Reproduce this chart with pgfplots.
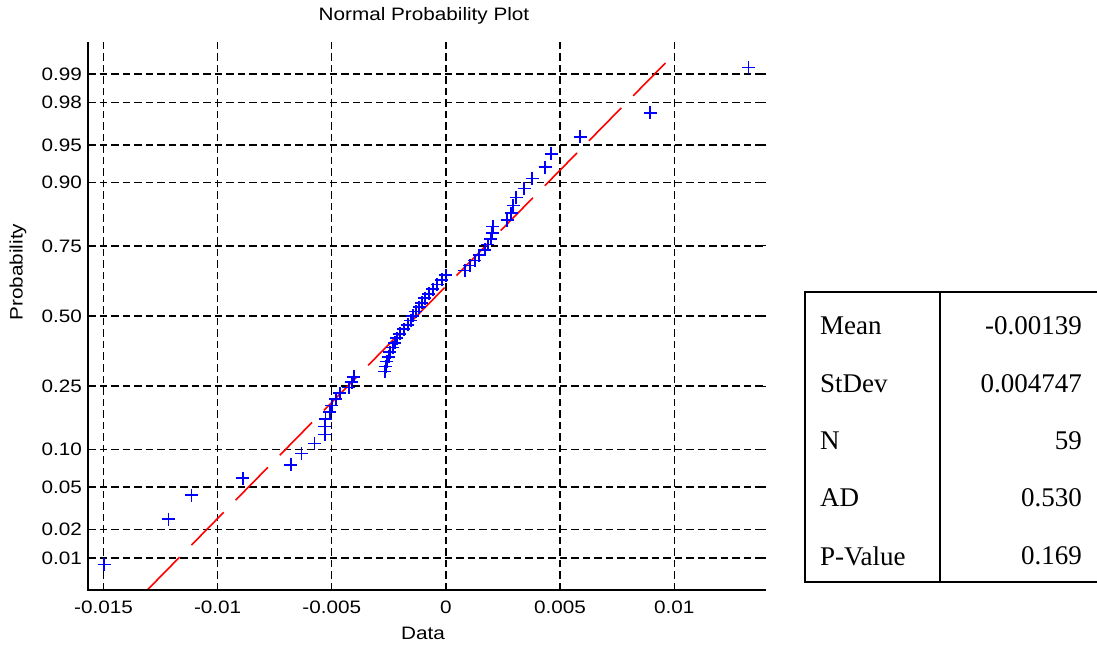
\documentclass[border=0pt]{standalone}
\usepackage{fontspec}
\setmainfont[FakeStretch=1.15]{Liberation Sans}
\newfontfamily\tablefont{Liberation Serif}
\usepackage{pgfplots}
\pgfplotsset{compat=1.18}
\begin{document}
\begin{tikzpicture}
\useasboundingbox (0pt,0pt) rectangle (1097pt,651pt);
\begin{axis}[
  at={(88pt,61pt)}, anchor=south west,
  scale only axis, width=678pt, height=548pt,
  xmin=-0.01568, xmax=0.01402, ymin=-2.635, ymax=2.635,
  /pgf/number format/assume math mode=true,
  font=\fontsize{18}{21}\selectfont,
  xtick={-0.015,-0.01,-0.005,0,0.005,0.01},
  xticklabels={-0.015,-0.01,-0.005,0,0.005,0.01},
  ytick={-2.3263,-2.0537,-1.6449,-1.2816,-0.6745,0,0.6745,1.2816,1.6449,2.0537,2.3263},
  yticklabels={0.01,0.02,0.05,0.10,0.25,0.50,0.75,0.90,0.95,0.98,0.99},
  scaled x ticks=false,
  grid=major,
  major grid style={black, line width=1.3pt, dash pattern=on 7.5pt off 4pt},
  axis line style={draw=none},
  tick pos=both, tick align=inside, major tick length=4pt,
  tick style={black, line width=1.2pt},
  xticklabel style={anchor=base, inner sep=0pt, yshift=-23pt},
  yticklabel style={anchor=east, inner sep=0pt, xshift=-6pt},
  title={Normal Probability Plot},
  title style={at={(axis description cs:0.5,1)}, anchor=base, yshift=15pt, xshift=-3pt, inner sep=0pt},
  xlabel={Data},
  xlabel style={at={(axis description cs:0.5,0)}, anchor=base, yshift=-49pt, xshift=-4pt, inner sep=0pt},
  ylabel={Probability},
  ylabel style={at={(axis description cs:-0.1032,0.58)}, anchor=center, inner sep=0pt},
  clip=false,
]
\addplot[red, line width=1.6pt, dash pattern=on 46pt off 17pt] coordinates {(-0.013083,-2.635) (0.01,2.519)};
\addplot[only marks, mark=+, mark size=6.5pt, color=blue, mark options={line width=1.6pt}] coordinates {
(-0.01497,-2.388) (-0.01215,-1.953) (-0.01114,-1.724) (-0.00890,-1.5605) (-0.00680,-1.4305)
(-0.00632,-1.321) (-0.00575,-1.2255) (-0.00531,-1.1401) (-0.00530,-1.0625) (-0.00527,-0.9903)
(-0.00509,-0.9231) (-0.00500,-0.8599) (-0.00482,-0.8000) (-0.00465,-0.7427) (-0.00425,-0.6880)
(-0.00412,-0.6350) (-0.00404,-0.5838) (-0.00268,-0.5342) (-0.00263,-0.4858) (-0.00259,-0.4385)
(-0.00250,-0.3922) (-0.00246,-0.3467) (-0.00232,-0.3020) (-0.00224,-0.2580) (-0.00215,-0.2140)
(-0.00202,-0.1708) (-0.00184,-0.1278) (-0.00167,-0.0851) (-0.00154,-0.0425) (-0.00145,0)
(-0.00132,0.0425) (-0.00118,0.0851) (-0.00105,0.1278) (-0.00092,0.1708) (-0.00075,0.2140)
(-0.00057,0.2580) (-0.00039,0.3020) (-0.00018,0.3467) (0.00000,0.3922) (0.00083,0.4385)
(0.00105,0.4858) (0.00127,0.5342) (0.00145,0.5838) (0.00171,0.6350) (0.00184,0.6880)
(0.00197,0.7427) (0.00202,0.8000) (0.00205,0.8599) (0.00268,0.9231) (0.00285,0.9903)
(0.00294,1.0625) (0.00307,1.1401) (0.00342,1.2255) (0.00377,1.321) (0.00434,1.4305)
(0.00461,1.5605) (0.00588,1.724) (0.00895,1.953) (0.01326,2.388)
};
\draw[black, line width=1.3pt] (rel axis cs:0,1) -- (rel axis cs:0,0) -- (rel axis cs:1,0);
\end{axis}
\draw[line width=1.2pt] (1099pt,359pt) -- (805pt,359pt) -- (805pt,69pt) -- (1099pt,69pt);
\draw[line width=1.2pt] (940pt,359pt) -- (940pt,69pt);
\begin{scope}[every node/.style={inner sep=0pt, font=\tablefont\fontsize{27}{30}\selectfont}]
\node[anchor=west] at (820pt,325pt) {Mean};
\node[anchor=west] at (820pt,267pt) {StDev};
\node[anchor=west] at (820pt,210pt) {N};
\node[anchor=west] at (820pt,153pt) {AD};
\node[anchor=west] at (820pt,95pt) {P-Value};
\node[anchor=east] at (1082pt,325pt) {-0.00139};
\node[anchor=east] at (1082pt,267pt) {0.004747};
\node[anchor=east] at (1082pt,210pt) {59};
\node[anchor=east] at (1082pt,153pt) {0.530};
\node[anchor=east] at (1082pt,95pt) {0.169};
\end{scope}
\end{tikzpicture}
\end{document}
